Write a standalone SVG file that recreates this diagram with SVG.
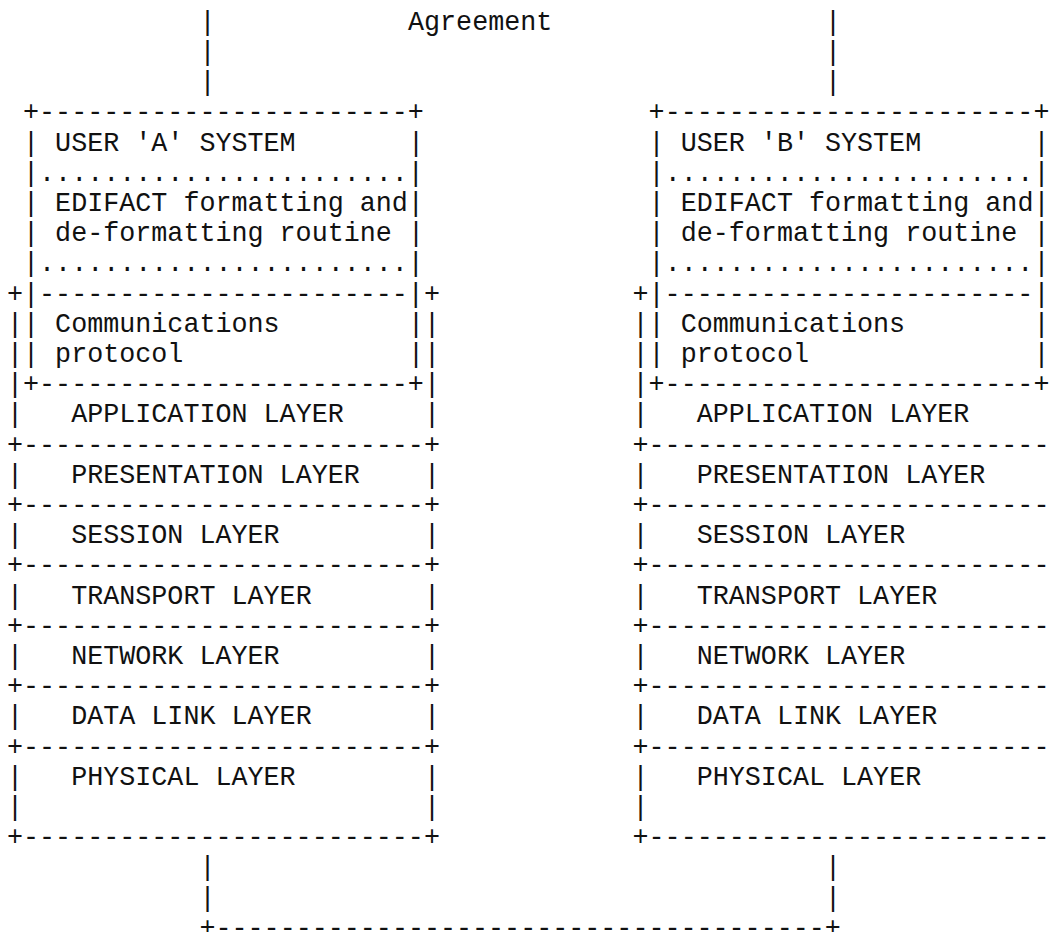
<svg xmlns="http://www.w3.org/2000/svg" width="1054" height="932" viewBox="0 0 1054 932">
<style>
.t { font-family: "Liberation Mono", "Courier New", monospace; font-size: 26.73px; fill: #111; }
</style>
<rect width="1054" height="932" fill="#fff"/>
<g id="connectors" class="t">
<text x="199.48" y="29.7">|</text>
<text x="408" y="29.7">Agreement</text>
<text x="825.04" y="29.7">|</text>
<text x="199.48" y="59.9">|</text>
<text x="825.04" y="59.9">|</text>
<text x="199.48" y="90.1">|</text>
<text x="825.04" y="90.1">|</text>
<text x="199.48" y="875.3">|</text>
<text x="825.04" y="875.3">|</text>
<text x="199.48" y="905.5">|</text>
<text x="825.04" y="905.5">|</text>
<text x="199.48" y="935.7">+--------------------------------------+</text>
</g>
<g id="user-a-system" class="t">
<text x="23.04" y="120.3">+-----------------------+</text>
<text x="23.04" y="150.5">|</text><text x="55.12" y="150.5">USER 'A' SYSTEM</text><text x="408" y="150.5">|</text>
<text x="23.04" y="180.7">|.......................|</text>
<text x="23.04" y="210.9">|</text><text x="55.12" y="210.9">EDIFACT formatting and|</text>
<text x="23.04" y="241.1">|</text><text x="55.12" y="241.1">de-formatting routine</text><text x="408" y="241.1">|</text>
<text x="23.04" y="271.3">|.......................|</text>
<text x="7" y="301.5">+|-----------------------|+</text>
<text x="7" y="331.7">||</text><text x="55.12" y="331.7">Communications</text><text x="408" y="331.7">||</text>
<text x="7" y="361.9">||</text><text x="55.12" y="361.9">protocol</text><text x="408" y="361.9">||</text>
<text x="7" y="392.1">|+-----------------------+|</text>
<text x="7" y="422.3">|</text><text x="71.16" y="422.3">APPLICATION LAYER</text><text x="424.04" y="422.3">|</text>
<text x="7" y="452.5">+-------------------------+</text>
<text x="7" y="482.7">|</text><text x="71.16" y="482.7">PRESENTATION LAYER</text><text x="424.04" y="482.7">|</text>
<text x="7" y="512.9">+-------------------------+</text>
<text x="7" y="543.1">|</text><text x="71.16" y="543.1">SESSION LAYER</text><text x="424.04" y="543.1">|</text>
<text x="7" y="573.3">+-------------------------+</text>
<text x="7" y="603.5">|</text><text x="71.16" y="603.5">TRANSPORT LAYER</text><text x="424.04" y="603.5">|</text>
<text x="7" y="633.7">+-------------------------+</text>
<text x="7" y="663.9">|</text><text x="71.16" y="663.9">NETWORK LAYER</text><text x="424.04" y="663.9">|</text>
<text x="7" y="694.1">+-------------------------+</text>
<text x="7" y="724.3">|</text><text x="71.16" y="724.3">DATA LINK LAYER</text><text x="424.04" y="724.3">|</text>
<text x="7" y="754.5">+-------------------------+</text>
<text x="7" y="784.7">|</text><text x="71.16" y="784.7">PHYSICAL LAYER</text><text x="424.04" y="784.7">|</text>
<text x="7" y="814.9">|</text><text x="424.04" y="814.9">|</text>
<text x="7" y="845.1">+-------------------------+</text>
</g>
<g id="user-b-system" class="t">
<text x="648.6" y="120.3">+-----------------------+</text>
<text x="648.6" y="150.5">|</text><text x="680.68" y="150.5">USER 'B' SYSTEM</text><text x="1033.56" y="150.5">|</text>
<text x="648.6" y="180.7">|.......................|</text>
<text x="648.6" y="210.9">|</text><text x="680.68" y="210.9">EDIFACT formatting and|</text>
<text x="648.6" y="241.1">|</text><text x="680.68" y="241.1">de-formatting routine</text><text x="1033.56" y="241.1">|</text>
<text x="648.6" y="271.3">|.......................|</text>
<text x="632.56" y="301.5">+|-----------------------|</text>
<text x="632.56" y="331.7">||</text><text x="680.68" y="331.7">Communications</text><text x="1033.56" y="331.7">|</text>
<text x="632.56" y="361.9">||</text><text x="680.68" y="361.9">protocol</text><text x="1033.56" y="361.9">|</text>
<text x="632.56" y="392.1">|+-----------------------+</text>
<text x="632.56" y="422.3">|</text><text x="696.72" y="422.3">APPLICATION LAYER</text>
<text x="632.56" y="452.5">+-------------------------</text>
<text x="632.56" y="482.7">|</text><text x="696.72" y="482.7">PRESENTATION LAYER</text>
<text x="632.56" y="512.9">+-------------------------</text>
<text x="632.56" y="543.1">|</text><text x="696.72" y="543.1">SESSION LAYER</text>
<text x="632.56" y="573.3">+-------------------------</text>
<text x="632.56" y="603.5">|</text><text x="696.72" y="603.5">TRANSPORT LAYER</text>
<text x="632.56" y="633.7">+-------------------------</text>
<text x="632.56" y="663.9">|</text><text x="696.72" y="663.9">NETWORK LAYER</text>
<text x="632.56" y="694.1">+-------------------------</text>
<text x="632.56" y="724.3">|</text><text x="696.72" y="724.3">DATA LINK LAYER</text>
<text x="632.56" y="754.5">+-------------------------</text>
<text x="632.56" y="784.7">|</text><text x="696.72" y="784.7">PHYSICAL LAYER</text>
<text x="632.56" y="814.9">|</text>
<text x="632.56" y="845.1">+-------------------------</text>
</g>
</svg>
